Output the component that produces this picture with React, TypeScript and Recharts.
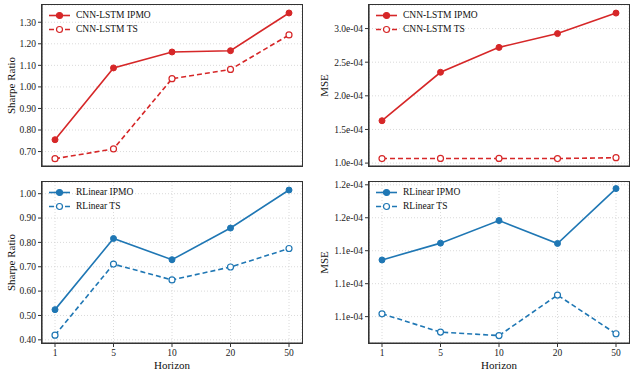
import React from 'react';
import { LineChart, Line, XAxis, YAxis, CartesianGrid } from 'recharts';

const horizons = ['1', '5', '10', '20', '50'];

const cnnSharpeIPMO = [0.755, 1.088, 1.162, 1.168, 1.343];
const cnnSharpeTS = [0.667, 0.712, 1.038, 1.081, 1.241];
const cnnMseIPMO = [1.63e-4, 2.35e-4, 2.72e-4, 2.925e-4, 3.23e-4];
const cnnMseTS = [1.068e-4, 1.069e-4, 1.069e-4, 1.068e-4, 1.08e-4];

const rlSharpeIPMO = [0.524, 0.816, 0.729, 0.859, 1.015];
const rlSharpeTS = [0.419, 0.711, 0.646, 0.699, 0.775];
const rlMseIPMO = [1.1344e-4, 1.1446e-4, 1.1583e-4, 1.1444e-4, 1.1777e-4];
const rlMseTS = [1.1017e-4, 1.0906e-4, 1.0885e-4, 1.1131e-4, 1.0896e-4];

const sharpeTicksTop = [0.7, 0.8, 0.9, 1.0, 1.1, 1.2, 1.3];
const mseTicksTop = [1.0e-4, 1.5e-4, 2.0e-4, 2.5e-4, 3.0e-4];
const sharpeTicksBottom = [0.4, 0.5, 0.6, 0.7, 0.8, 0.9, 1.0];
const mseTicksBottom = [1.1e-4, 1.12e-4, 1.14e-4, 1.16e-4, 1.18e-4];

const RED = '#d62728';
const BLUE = '#1f77b4';
const FONT = '"Liberation Serif", "DejaVu Serif", serif';
const FRAME = '#333';

const build = (a: number[], b: number[]) =>
  horizons.map((h, i) => ({ h, ipmo: a[i], ts: b[i] }));

const fmtSharpe = (v: number) => v.toFixed(2);
const fmtMse = (v: number) => (v * 1e4).toFixed(1) + 'e-04';

type PanelProps = {
  left: number;
  top: number;
  width: number;
  height: number;
  yWidth: number;
  marginRight: number;
  xHeight: number;
  data: any[];
  color: string;
  names: [string, string];
  ticks: number[];
  domain: [number, number];
  fmt: (v: number) => string;
  ylabel: string;
  ylabelX: number;
  showX: boolean;
};

const MARGIN_TOP = 5;

const Panel = (p: PanelProps) => {
  const plotLeft = p.yWidth;
  const plotW = p.width - p.yWidth - p.marginRight;
  const plotH = p.height - MARGIN_TOP - p.xHeight;
  const tickStyle = { fontFamily: FONT, fontSize: 9.5, fill: '#222' };
  return (
    <div style={{ position: 'absolute', left: p.left, top: p.top, width: p.width, height: p.height }}>
      <LineChart
        width={p.width}
        height={p.height}
        data={p.data}
        margin={{ top: MARGIN_TOP, right: p.marginRight, left: 0, bottom: 0 }}
      >
        <CartesianGrid stroke="#d0d0d0" strokeDasharray="1 2" strokeWidth={0.8} />
        <XAxis
          dataKey="h"
          height={p.xHeight}
          padding={{ left: 13, right: 13 }}
          tick={p.showX ? tickStyle : false}
          tickSize={4}
          tickMargin={2}
          tickLine={{ stroke: FRAME }}
          axisLine={{ stroke: FRAME, strokeWidth: 1.2 }}
          interval={0}
          label={
            p.showX
              ? {
                  value: 'Horizon',
                  content: (lp: any) => {
                    const vb = lp.viewBox;
                    return (
                      <text
                        x={vb.x + vb.width / 2}
                        y={vb.y + 22}
                        textAnchor="middle"
                        dominantBaseline="central"
                        style={{ fontFamily: FONT, fontSize: 11, fill: '#111' }}
                      >
                        Horizon
                      </text>
                    );
                  },
                }
              : undefined
          }
        />
        <YAxis
          width={p.yWidth}
          domain={p.domain}
          allowDataOverflow
          ticks={p.ticks}
          interval={0}
          tickFormatter={p.fmt}
          tick={tickStyle}
          tickSize={4}
          tickMargin={2}
          tickLine={{ stroke: FRAME }}
          axisLine={{ stroke: FRAME, strokeWidth: 1.2 }}
          label={{
            value: p.ylabel,
            content: (lp: any) => {
              const vb = lp.viewBox;
              const cx = p.ylabelX;
              const cy = vb.y + vb.height / 2;
              return (
                <text
                  x={cx}
                  y={cy}
                  transform={`rotate(-90, ${cx}, ${cy})`}
                  textAnchor="middle"
                  dominantBaseline="central"
                  style={{ fontFamily: FONT, fontSize: 11, fill: '#111' }}
                >
                  {p.ylabel}
                </text>
              );
            },
          }}
        />
        <Line
          dataKey="ipmo"
          name={p.names[0]}
          stroke={p.color}
          strokeWidth={1.6}
          dot={{ r: 3, fill: p.color, stroke: p.color, strokeWidth: 1 }}
          isAnimationActive={false}
        />
        <Line
          dataKey="ts"
          name={p.names[1]}
          stroke={p.color}
          strokeWidth={1.6}
          strokeDasharray="5 3"
          dot={{ r: 3, fill: '#fff', stroke: p.color, strokeWidth: 1.2, strokeDasharray: '' }}
          isAnimationActive={false}
        />
      </LineChart>
      <div
        style={{
          position: 'absolute',
          left: plotLeft - 0.6,
          top: MARGIN_TOP - 0.6,
          width: plotW + 1.2,
          height: plotH + 1.2,
          boxSizing: 'border-box',
          border: `1.2px solid ${FRAME}`,
          pointerEvents: 'none',
        }}
      />
      <div
        style={{
          position: 'absolute',
          left: plotLeft + 6,
          top: MARGIN_TOP + 4,
          fontFamily: FONT,
          fontSize: 9.5,
          color: '#111',
          lineHeight: '13px',
        }}
      >
        {p.names.map((n, i) => (
          <div key={n} style={{ display: 'flex', alignItems: 'center', height: 13.5 }}>
            <svg width={28} height={13} style={{ display: 'block' }}>
              <line
                x1={1}
                x2={22}
                y1={6.5}
                y2={6.5}
                stroke={p.color}
                strokeWidth={1.6}
                strokeDasharray={i === 1 ? '5 3' : undefined}
              />
              <circle cx={11.5} cy={6.5} r={3} fill={i === 0 ? p.color : '#fff'} stroke={p.color} strokeWidth={1.2} />
            </svg>
            <span>{n}</span>
          </div>
        ))}
      </div>
    </div>
  );
};

export default function App() {
  return (
    <div style={{ position: 'fixed', left: 0, top: 0, width: 635, height: 378, background: '#fff' }}>
      <Panel
        left={0}
        top={0}
        width={310}
        height={175}
        yWidth={42}
        marginRight={8}
        xHeight={9}
        data={build(cnnSharpeIPMO, cnnSharpeTS)}
        color={RED}
        names={['CNN-LSTM IPMO', 'CNN-LSTM TS']}
        ticks={sharpeTicksTop}
        domain={[0.633, 1.38]}
        fmt={fmtSharpe}
        ylabel="Sharpe Ratio"
        ylabelX={11}
        showX={false}
      />
      <Panel
        left={315}
        top={0}
        width={320}
        height={175}
        yWidth={54}
        marginRight={6}
        xHeight={9}
        data={build(cnnMseIPMO, cnnMseTS)}
        color={RED}
        names={['CNN-LSTM IPMO', 'CNN-LSTM TS']}
        ticks={mseTicksTop}
        domain={[0.957e-4, 3.35e-4]}
        fmt={fmtMse}
        ylabel="MSE"
        ylabelX={9}
        showX={false}
      />
      <Panel
        left={0}
        top={177}
        width={310}
        height={200}
        yWidth={42}
        marginRight={8}
        xHeight={34}
        data={build(rlSharpeIPMO, rlSharpeTS)}
        color={BLUE}
        names={['RLinear IPMO', 'RLinear TS']}
        ticks={sharpeTicksBottom}
        domain={[0.387, 1.048]}
        fmt={fmtSharpe}
        ylabel="Sharpe Ratio"
        ylabelX={11}
        showX={true}
      />
      <Panel
        left={315}
        top={177}
        width={320}
        height={200}
        yWidth={54}
        marginRight={6}
        xHeight={34}
        data={build(rlMseIPMO, rlMseTS)}
        color={BLUE}
        names={['RLinear IPMO', 'RLinear TS']}
        ticks={mseTicksBottom}
        domain={[1.084e-4, 1.1817e-4]}
        fmt={fmtMse}
        ylabel="MSE"
        ylabelX={9}
        showX={true}
      />
    </div>
  );
}
